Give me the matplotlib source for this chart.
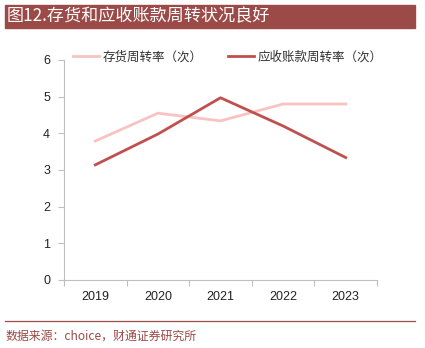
import numpy as np
import matplotlib.pyplot as plt
from matplotlib.patches import Rectangle
from matplotlib.lines import Line2D

years = ["2019", "2020", "2021", "2022", "2023"]
inventory_turnover = [3.79, 4.55, 4.34, 4.80, 4.80]
receivable_turnover = [3.14, 3.98, 4.97, 4.20, 3.34]
y_ticks = [0, 1, 2, 3, 4, 5, 6]

title = "图12.存货和应收账款周转状况良好"
source = "数据来源：choice，财通证券研究所"
labels = ["存货周转率（次）", "应收账款周转率（次）"]

cjk = ["Noto Sans CJK SC", "DejaVu Sans"]
band_color = "#9B4A47"
c_inv = "#F9C3C3"
c_rec = "#C0504D"
grey = "#BFBFBF"

fig = plt.figure(figsize=(4.25, 3.48), dpi=100)

# title band
fig.patches.append(Rectangle((5 / 425, 1 - 28 / 348), 410 / 425, 23 / 348,
                             transform=fig.transFigure, color=band_color, zorder=0))
fig.text(7 / 425, 1 - 16.5 / 348, title, color="white", fontsize=12.3,
         family=cjk, va="center", ha="left")

ax = fig.add_axes([64 / 425, 1 - 280 / 348, 313 / 425, 220 / 348])
x = np.arange(len(years))
ax.plot(x, inventory_turnover, color=c_inv, lw=2)
ax.plot(x, receivable_turnover, color=c_rec, lw=2)

ax.set_xlim(-0.5, len(years) - 0.5)
ax.set_ylim(0, 6)
ax.set_yticks(y_ticks)
ax.set_xticks(np.arange(-0.5, len(years)), minor=False)
ax.set_xticklabels([])
ax.set_xticks(x, minor=True)
ax.set_xticklabels(years, minor=True)
ax.tick_params(axis="x", which="major", length=4, color=grey)
ax.tick_params(axis="x", which="minor", length=0, pad=8)
ax.tick_params(axis="y", length=4, color=grey, pad=6)
for lab in ax.get_xticklabels(minor=True) + ax.get_yticklabels():
    lab.set_family("Liberation Sans")
    lab.set_fontsize(9)
    lab.set_color("#222222")
for s in ["top", "right"]:
    ax.spines[s].set_visible(False)
for s in ["left", "bottom"]:
    ax.spines[s].set_color(grey)

handles = [Line2D([], [], color=c_inv, lw=2), Line2D([], [], color=c_rec, lw=2)]
leg = ax.legend(handles, labels, loc="center left", ncol=2, frameon=False,
                bbox_to_anchor=(9 / 313, 1.014), borderaxespad=0, borderpad=0,
                handlelength=2.1, handletextpad=0.3, columnspacing=2.0,
                prop={"family": cjk, "size": 9})
for t in leg.get_texts():
    t.set_color("#333333")

# bottom rule and source
fig.add_artist(Line2D([5 / 425, 415 / 425], [1 - 321 / 348] * 2,
                      transform=fig.transFigure, color=band_color, lw=0.9))
fig.text(6 / 425, 1 - 336 / 348, source, color=band_color, fontsize=8.6,
         family=cjk, va="center", ha="left")

fig.savefig("out.png", dpi=100)
